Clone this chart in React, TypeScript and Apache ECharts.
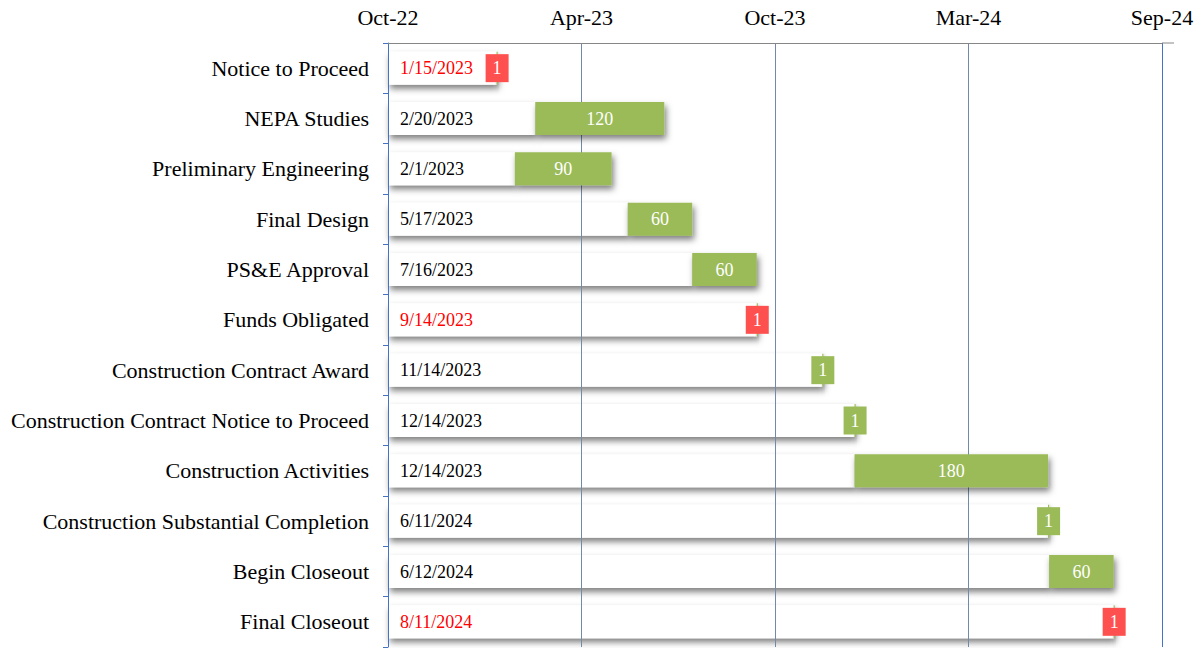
import React, { useEffect, useRef } from "react";
import * as echarts from "echarts";

const tasks = [
  "Notice to Proceed",
  "NEPA Studies",
  "Preliminary Engineering",
  "Final Design",
  "PS&E Approval",
  "Funds Obligated",
  "Construction Contract Award",
  "Construction Contract Notice to Proceed",
  "Construction Activities",
  "Construction Substantial Completion",
  "Begin Closeout",
  "Final Closeout",
];

const startDates = [
  "1/15/2023",
  "2/20/2023",
  "2/1/2023",
  "5/17/2023",
  "7/16/2023",
  "9/14/2023",
  "11/14/2023",
  "12/14/2023",
  "12/14/2023",
  "6/11/2024",
  "6/12/2024",
  "8/11/2024",
];

const durations = [1, 120, 90, 60, 60, 1, 1, 1, 180, 1, 60, 1];

const highlighted = [true, false, false, false, false, true, false, false, false, false, false, true];

const tickLabels = ["Oct-22", "Apr-23", "Oct-23", "Mar-24", "Sep-24"];
const axisOrigin = "10/6/2022";
const tickStepDays = 180;
const axisSpanDays = 720;

const FONT = "'Liberation Serif', 'Times New Roman', serif";
const GREEN = "#9bbb59";
const RED = "#ff5050";

function toUTC(s: string): number {
  const [m, d, y] = s.split("/").map(Number);
  return Date.UTC(y, m - 1, d);
}

function dayOffset(s: string): number {
  return Math.round((toUTC(s) - toUTC(axisOrigin)) / 86400000);
}

export default function App() {
  const ref = useRef<HTMLDivElement>(null);

  useEffect(() => {
    document.body.style.margin = "0";
    if (!ref.current) return;
    const chart = echarts.init(ref.current, null, { renderer: "svg" });

    const offsets = startDates.map(dayOffset);
    const shadow = {
      shadowColor: "rgba(0,0,0,0.5)",
      shadowBlur: 6,
      shadowOffsetX: 2,
      shadowOffsetY: 4,
    };

    chart.setOption({
      animation: false,
      backgroundColor: "#ffffff",
      grid: { left: 388, right: 37, top: 43, bottom: 1, containLabel: false },
      xAxis: {
        type: "value",
        position: "top",
        min: 0,
        max: axisSpanDays,
        interval: tickStepDays,
        z: 1,
        axisLine: { show: true, lineStyle: { color: "#868686", width: 1 } },
        axisTick: { show: false },
        axisLabel: {
          fontFamily: FONT,
          fontSize: 22,
          color: "#000",
          margin: 15,
          formatter: (v: number) => tickLabels[Math.round(v / tickStepDays)] ?? "",
        },
        splitLine: {
          show: true,
          lineStyle: {
            color: ["#4472c4", "#7489aa", "#7489aa", "#7489aa", "#4472c4"],
            width: 1,
          },
        },
      },
      yAxis: {
        type: "category",
        data: tasks,
        inverse: true,
        z: 1,
        axisLine: { show: true, lineStyle: { color: "#4472c4", width: 1 } },
        axisTick: { show: true, length: 5, lineStyle: { color: "#4472c4" } },
        axisLabel: { fontFamily: FONT, fontSize: 22, color: "#000", margin: 19 },
        splitLine: { show: false },
      },
      graphic: [
        {
          type: "line",
          shape: { x1: 1162, y1: 43, x2: 1174, y2: 43 },
          style: { stroke: "#868686", lineWidth: 1 },
        },
      ],
      series: [
        {
          type: "bar",
          stack: "gantt",
          barWidth: 33,
          z: 0,
          itemStyle: { color: "#ffffff", ...shadow },
          label: {
            show: true,
            position: "insideLeft",
            distance: 12,
            fontFamily: FONT,
            fontSize: 18,
            formatter: (p: any) => startDates[p.dataIndex],
          },
          data: offsets.map((v, i) => ({
            value: v,
            label: { color: highlighted[i] ? "#ff0000" : "#000000" },
          })),
        },
        {
          type: "bar",
          stack: "gantt",
          barWidth: 33,
          z: 3,
          itemStyle: { color: GREEN, ...shadow },
          label: {
            show: true,
            position: "inside",
            color: "#ffffff",
            fontFamily: FONT,
            fontSize: 18,
            padding: [5, 7],
          },
          data: durations.map((v, i) => ({
            value: v,
            label: { backgroundColor: highlighted[i] ? RED : GREEN },
          })),
        },
      ],
    });

    return () => chart.dispose();
  }, []);

  return <div ref={ref} style={{ width: 1199, height: 648 }} />;
}
